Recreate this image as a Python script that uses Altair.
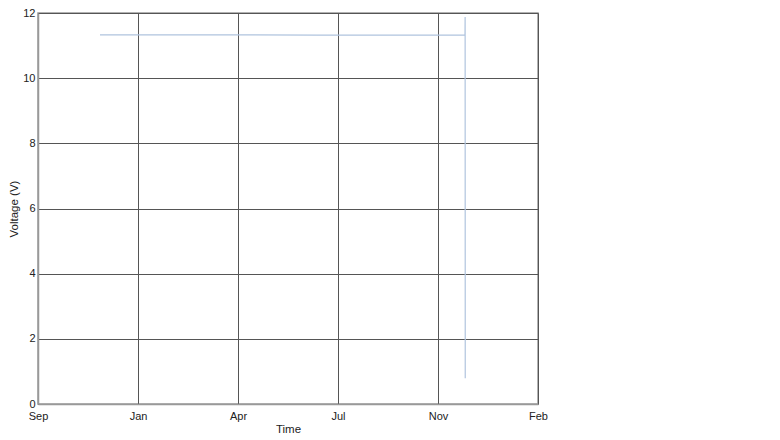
import altair as alt
import pandas as pd

# Data
times = [
    "2019-11-29T00:00:00Z", "2020-02-10T00:00:00Z", "2020-04-20T00:00:00Z",
    "2020-07-04T00:00:00Z", "2020-09-01T00:00:00Z", "2020-10-24T00:00:00Z",
    "2020-11-28T00:00:00Z", "2020-11-28T03:00:00Z", "2020-11-28T06:00:00Z",
]
voltage = [11.33, 11.33, 11.33, 11.32, 11.32, 11.32, 11.33, 11.88, 0.79]
order = list(range(len(times)))

tick_dates = ["2019-09-28", "2020-01-06", "2020-04-15", "2020-07-24", "2020-11-01", "2021-02-09"]
y_ticks = [0, 2, 4, 6, 8, 10, 12]

df = pd.DataFrame({"time": times, "voltage": voltage, "order": order})


def dt(s):
    y, m, d = (int(p) for p in s.split("-"))
    return alt.DateTime(year=y, month=m, date=d, utc=True)


font = "Liberation Sans"

chart = (
    alt.Chart(df)
    .mark_line(color="#b0c4de", strokeWidth=1.2)
    .encode(
        x=alt.X(
            "time:T",
            title="Time",
            scale=alt.Scale(type="utc", domain=[dt(tick_dates[0]), dt(tick_dates[-1])]),
            axis=alt.Axis(
                values=[dt(s) for s in tick_dates],
                format="%b",
                labelPadding=6,
                titlePadding=2,
                labelFlush=False,
            ),
        ),
        y=alt.Y(
            "voltage:Q",
            title="Voltage (V)",
            scale=alt.Scale(domain=[0, 12], nice=False),
            axis=alt.Axis(values=y_ticks, labelPadding=3, titlePadding=3, labelFlush=False),
        ),
        order="order:Q",
    )
    .properties(width=500, height=391, padding={"left": 30, "top": 5, "right": 10, "bottom": 40})
    .configure(autosize="none")
    .configure_axis(
        grid=True,
        gridColor="#555555",
        gridOpacity=1,
        gridWidth=1,
        domainColor="#999999",
        domainWidth=1.5,
        ticks=False,
        labelFont=font,
        labelFontSize=11,
        labelColor="#222222",
        titleFont=font,
        titleFontSize=11.5,
        titleFontWeight="normal",
        titleColor="#222222",
    )
    .configure_view(stroke="#999999", strokeWidth=1.5)
)

chart.save("out.html", embed_options={"renderer": "svg", "actions": False})
